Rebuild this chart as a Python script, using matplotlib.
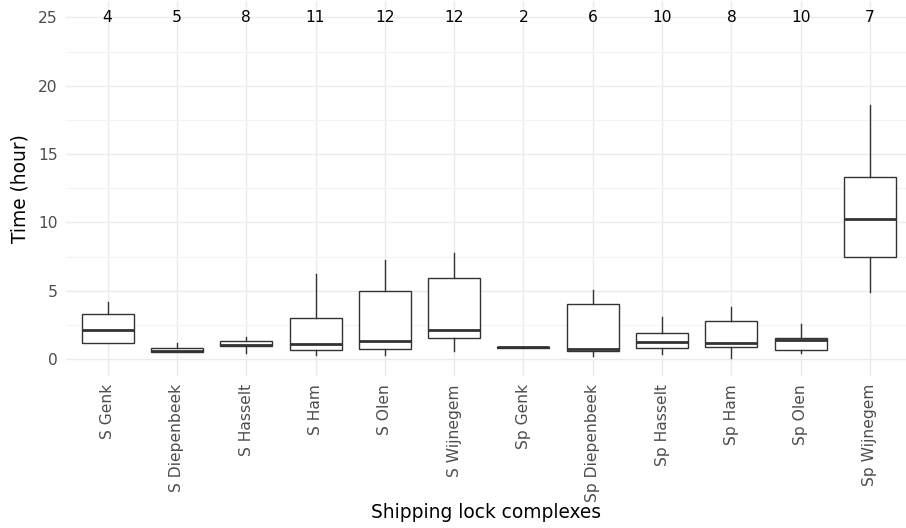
import numpy as np
import matplotlib
matplotlib.use("Agg")
import matplotlib.pyplot as plt
from matplotlib.ticker import MultipleLocator

# categories and box statistics (hours)
locks = ["S Genk", "S Diepenbeek", "S Hasselt", "S Ham", "S Olen", "S Wijnegem",
         "Sp Genk", "Sp Diepenbeek", "Sp Hasselt", "Sp Ham", "Sp Olen", "Sp Wijnegem"]
counts = [4, 5, 8, 11, 12, 12, 2, 6, 10, 8, 10, 7]
whis_lo = [1.21, 0.51, 0.44, 0.31, 0.29, 0.63, 0.85, 0.27, 0.39, 0.07, 0.44, 4.90]
q1 = [1.21, 0.51, 0.95, 0.68, 0.78, 1.53, 0.85, 0.61, 0.85, 0.92, 0.68, 7.45]
median = [2.12, 0.63, 1.05, 1.12, 1.36, 2.12, 0.88, 0.73, 1.24, 1.17, 1.43, 10.28]
q3 = [3.31, 0.85, 1.36, 3.00, 4.97, 5.97, 0.91, 4.02, 1.92, 2.80, 1.58, 13.33]
whis_hi = [4.17, 1.17, 1.61, 6.24, 7.26, 7.75, 0.91, 5.07, 3.07, 3.85, 2.58, 18.60]

stats = []
for i in range(len(locks)):
    stats.append({"label": locks[i], "whislo": whis_lo[i], "q1": q1[i],
                  "med": median[i], "q3": q3[i], "whishi": whis_hi[i], "fliers": []})

W, H = 906, 528
fig = plt.figure(figsize=(W / 100, H / 100), dpi=100)
ax = fig.add_axes([66 / W, (H - 375.7) / H, (906 - 66) / W, (375.7 - 0.9) / H])

pos = np.arange(1, len(locks) + 1)
line_col = "#333333"
ax.bxp(stats, positions=pos, widths=0.75, showcaps=False, patch_artist=True,
       boxprops=dict(facecolor="white", edgecolor=line_col, linewidth=1.0),
       whiskerprops=dict(color=line_col, linewidth=1.0),
       medianprops=dict(color=line_col, linewidth=2.0),
       zorder=3)

# sample counts along the top
for p, n in zip(pos, counts):
    ax.text(p, 25, str(n), ha="center", va="center", fontsize=11.2, color="black")

ax.set_xlim(0.4, 1 + (906 - 107.7) / 69.3)
ax.set_ylim(-1.2, 26.2)
ax.yaxis.set_major_locator(MultipleLocator(5))
ax.yaxis.set_minor_locator(MultipleLocator(2.5))
ax.set_xticks(pos)
ax.set_xticklabels(locks, rotation=90, fontsize=11.2, color="#4D4D4D")
ax.tick_params(axis="y", labelsize=11.2, labelcolor="#4D4D4D")
ax.tick_params(axis="both", which="both", length=0, pad=6)

ax.grid(True, which="major", color="#EBEBEB", linewidth=1.0)
ax.grid(True, which="minor", axis="y", color="#F3F3F3", linewidth=0.8)
ax.set_axisbelow(True)
for s in ax.spines.values():
    s.set_visible(False)

ax.set_ylabel("Time (hour)", fontsize=13.4, labelpad=6)
ax.set_xlabel("Shipping lock complexes", fontsize=13.4, labelpad=1)

fig.savefig("out.png", dpi=100)
